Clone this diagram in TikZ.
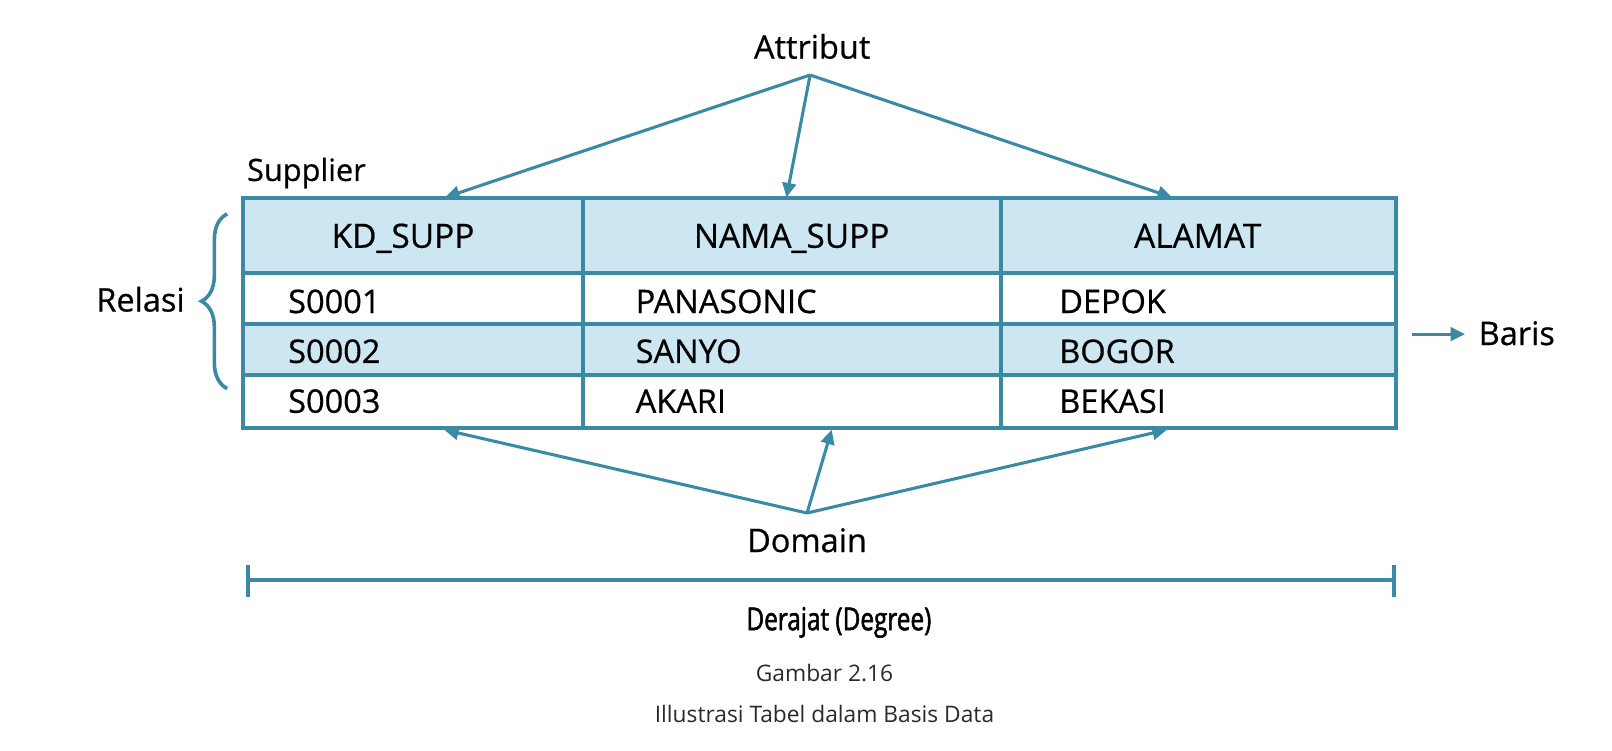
\documentclass[tikz,border=0pt]{standalone}
\usepackage{fontspec}
\setmainfont{Open Sans}
\newfontfamily\tblfont[FakeBold=0.6]{Open Sans}
\newfontfamily\derfont[FakeBold=1.6,FakeStretch=0.77]{Open Sans}
\usetikzlibrary{arrows.meta,decorations.pathreplacing}

\definecolor{tblline}{HTML}{3B8AA5}
\definecolor{tblfill}{HTML}{CCE7F1}
\definecolor{capgray}{HTML}{2A2A2A}

\tikzset{
  grid line/.style={draw=tblline, line width=2.2pt},
  hdrtext/.style={font=\tblfont\fontsize{18.5}{20}\selectfont, inner sep=0pt, anchor=base},
  celltext/.style={font=\tblfont\fontsize{18}{20}\selectfont, inner sep=0pt, anchor=base west},
  lbltext/.style={font=\tblfont\fontsize{18}{20}\selectfont, inner sep=0pt},
  captext/.style={font=\fontsize{12.6}{14}\selectfont, text=capgray, inner sep=0pt, anchor=base},
  pointer/.style={draw=tblline, line width=1.7pt, -{Triangle[length=8pt,width=7.5pt]}},
}

\begin{document}
\begin{tikzpicture}[x=0.02cm,y=-0.02cm]
\useasboundingbox (0,0) rectangle (1568,730.5);

% table body
\fill[tblfill] (236,193) rectangle (1358,266);
\fill[tblfill] (236,315) rectangle (1358,365);
\draw[grid line] (236,193) rectangle (1358,416);
\foreach \y in {266,315,365}
  \draw[grid line] (236,\y) -- (1358,\y);
\foreach \x in {567,974}
  \draw[grid line] (\x,193) -- (\x,416);

% header and rows
\node[hdrtext] (kd)     at (392,241) {KD\_SUPP};
\node[hdrtext] (nama)   at (770,241) {NAMA\_SUPP};
\node[hdrtext] (alamat) at (1165,241) {ALAMAT};

\foreach \kd/\nm/\al [count=\r] in {S0001/PANASONIC/DEPOK, S0002/SANYO/BOGOR, S0003/AKARI/BEKASI} {
  \node[celltext] (kd\r)     at (280,256+48.5*\r) {\kd};
  \node[celltext] (nama\r)   at (618,256+48.5*\r) {\nm};
  \node[celltext] (alamat\r) at (1030,256+48.5*\r) {\al};
}

\node[font=\tblfont\fontsize{17}{19}\selectfont, inner sep=0pt, anchor=base west] (supplier) at (240,176) {Supplier};

% attribut
\node[lbltext, anchor=base] (attr) at (790,57) {Attribut};
\coordinate (attrapex) at (788,73);
\coordinate (kdtop) at (433,192);
\coordinate (namatop) at (765,192);
\coordinate (alamattop) at (1140,192);
\foreach \t in {kdtop,namatop,alamattop}
  \draw[pointer] (attrapex) -- (\t);

% domain
\node[lbltext, anchor=base] (domain) at (785,537) {Domain};
\coordinate (domapex) at (785,499);
\coordinate (kdbot) at (432,418);
\coordinate (namabot) at (809,418);
\coordinate (alamatbot) at (1135,418);
\foreach \t in {kdbot,namabot,alamatbot}
  \draw[pointer] (domapex) -- (\t);

% relasi
\node[lbltext, anchor=base east] (relasi) at (180,303) {Relasi};
\coordinate (relbot) at (221,378);
\coordinate (reltop) at (221,208);
\draw[draw=tblline, line width=2pt, decorate, decoration={brace, amplitude=0.5cm}] (relbot) -- (reltop);

% baris
\node[lbltext, anchor=base west] (baris) at (1438,335.6) {Baris};
\coordinate (barisfrom) at (1373,325);
\coordinate (baristo) at (1425,325);
\draw[pointer] (barisfrom) -- (baristo);

% derajat
\coordinate (degl) at (241,564);
\coordinate (degr) at (1356,564);
\draw[grid line] (degl) -- (degr);
\draw[grid line] (241,549.5) -- (241,580.5);
\draw[grid line] (1356,549.5) -- (1356,580.5);
\node[font=\derfont\fontsize{17.5}{19}\selectfont, inner sep=0pt, anchor=base] (derajat) at (816,613) {Derajat (Degree)};

% caption
\node[captext] (gambar) at (802,663) {Gambar 2.16};
\node[captext] (judul) at (802,703) {Illustrasi Tabel dalam Basis Data};
\end{tikzpicture}
\end{document}
